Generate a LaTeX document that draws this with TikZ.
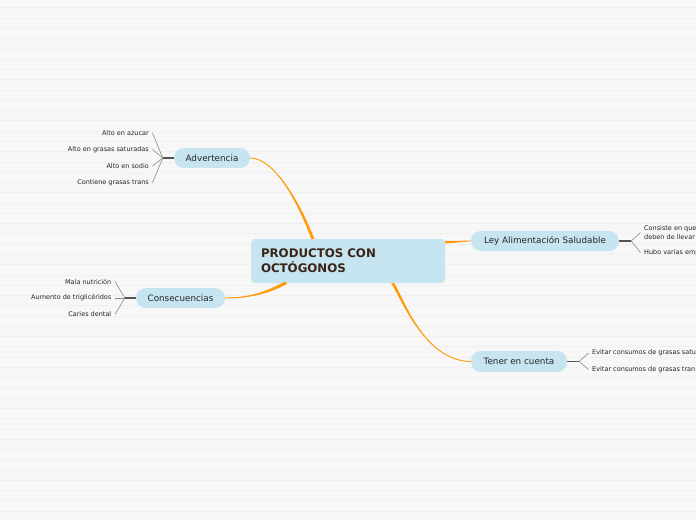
\documentclass[tikz,border=0pt]{standalone}
\usepackage{fontspec}
\setmainfont{DejaVu Sans}
\usetikzlibrary{calc}
\definecolor{bg}{HTML}{F7F7F7}
\definecolor{stripe}{HTML}{F0F0F0}
\definecolor{nodefill}{HTML}{C6E5F0}
\definecolor{brorange}{HTML}{FF9A0A}
\definecolor{maintext}{HTML}{3A2416}
\definecolor{stemgray}{HTML}{555555}
\definecolor{fangray}{HTML}{8A8A8A}
\tikzset{
  mainbox/.style={fill=nodefill, rounded corners=4bp, minimum width=194bp, minimum height=44bp,
    text width=174bp, align=left, inner xsep=10bp, inner ysep=0pt, text=maintext,
    font=\fontsize{11.8bp}{15bp}\selectfont\bfseries},
  topicbox/.style={fill=nodefill, rounded corners=10bp, minimum height=20bp, inner sep=0pt,
    text=black!85, font=\fontsize{8.8bp}{10bp}\selectfont},
  leafl/.style={anchor=east, inner xsep=3.5bp, inner ysep=1bp, text=black!85, font=\fontsize{6.5bp}{9bp}\selectfont},
  leafr/.style={anchor=west, inner xsep=3.5bp, inner ysep=1bp, text=black!85, align=left, font=\fontsize{6.5bp}{9bp}\selectfont},
  stem/.style={draw=stemgray, line width=1.3bp},
  fan/.style={draw=fangray, line width=0.6bp},
  branch/.style={draw=brorange, line width=0.9bp},
}
\begin{document}
\begin{tikzpicture}[x=1bp,y=-1bp]
\useasboundingbox (0,0) rectangle (696,520);
\clip (0,0) rectangle (696,520);
\fill[bg] (0,0) rectangle (696,520);
\foreach \i in {0,...,50} {
  \draw[stripe, line width=1bp] (0,{8+\i*10.27}) -- (696,{8+\i*10.27});
}

% nodes
\node[mainbox] (c) at (348,261) {PRODUCTOS CON\\OCTÓGONOS};
\node[topicbox, minimum width=76bp] (adv) at (212,158) {Advertencia};
\node[topicbox, minimum width=89bp] (cons) at (180.5,298) {Consecuencias};
\node[topicbox, minimum width=148bp] (ley) at (545,241) {Ley Alimentación Saludable};
\node[topicbox, minimum width=96bp, minimum height=21bp] (ten) at (519,361.5) {Tener en cuenta};

% branches (tapered)
% Advertencia
\fill[brorange] ($(c.north west)+(60.5,0)$) .. controls (298.5,205) and (275,157.6) .. (adv.east)
   -- (adv.east) .. controls (275,158.4) and (301.5,205) .. ($(c.north west)+(63.5,0)$) -- cycle;
\draw[branch] ($(c.north west)+(62,0)$) .. controls (300,205) and (275,158) .. (adv.east);
% Consecuencias
\fill[brorange] ($(c.south west)+(34,-1.5)$) .. controls (271,288.5) and (255,297.6) .. (cons.east)
   -- (cons.east) .. controls (255,298.4) and (273,291.5) .. ($(c.south west)+(36.5,0.5)$) -- cycle;
\draw[branch] ($(c.south west)+(35,-0.5)$) .. controls (272,290) and (255,298) .. (cons.east);
% Ley
\fill[brorange] ($(c.north east)+(0,2)$) .. controls (455,241) and (462,240.6) .. (ley.west)
   -- (ley.west) .. controls (462,241.4) and (455,243.4) .. ($(c.north east)+(0,4.5)$) -- cycle;
\draw[branch] ($(c.north east)+(0,3.2)$) .. controls (455,242) and (462,241) .. (ley.west);
% Tener en cuenta
\fill[brorange] ($(c.south west)+(140.5,0)$) .. controls (401.5,300) and (425,360.6) .. (ten.west)
   -- (ten.west) .. controls (425,361.4) and (404.5,300) .. ($(c.south west)+(143.5,0)$) -- cycle;
\draw[branch] ($(c.south west)+(142,0)$) .. controls (403,300) and (425,361) .. (ten.west);

% Advertencia leaves
\coordinate (advs) at ($(adv.west)+(-11,0)$);
\draw[stem] (adv.west) -- (advs);
\node[leafl] (a1) at (152.5,133) {Alto en azucar};
\node[leafl] (a2) at (152.5,149.5) {Alto en grasas saturadas};
\node[leafl] (a3) at (152.5,166) {Alto en sodio};
\node[leafl] (a4) at (152.5,182.5) {Contiene grasas trans};
\foreach \l in {a1,a2,a3,a4} \draw[fan] (advs) -- (\l.east);

% Consecuencias leaves
\coordinate (conss) at ($(cons.west)+(-11,0)$);
\draw[stem] (cons.west) -- (conss);
\node[leafl] (b1) at (115,281.5) {Mala nutrición};
\node[leafl] (b2) at (115,298) {Aumento de triglicéridos};
\node[leafl] (b3) at (115,314.5) {Caries dental};
\foreach \l in {b1,b2,b3} \draw[fan] (conss) -- (\l.east);

% Ley leaves
\coordinate (leys) at ($(ley.east)+(12,0)$);
\draw[stem] (ley.east) -- (leys);
\node[leafr] (l1) at (640.5,232.5) {Consiste en que\\deben de llevar};
\node[leafr] (l2) at (640.5,252.5) {Hubo varias emp};
\foreach \l in {l1,l2} \draw[fan] (leys) -- (\l.west);

% Tener leaves
\coordinate (tens) at ($(ten.east)+(12,0)$);
\draw[stem] (ten.east) -- (tens);
\node[leafr] (t1) at (588.5,353) {Evitar consumos de grasas satu};
\node[leafr] (t2) at (588.5,369.5) {Evitar consumos de grasas tran};
\foreach \l in {t1,t2} \draw[fan] (tens) -- (\l.west);
\end{tikzpicture}
\end{document}
